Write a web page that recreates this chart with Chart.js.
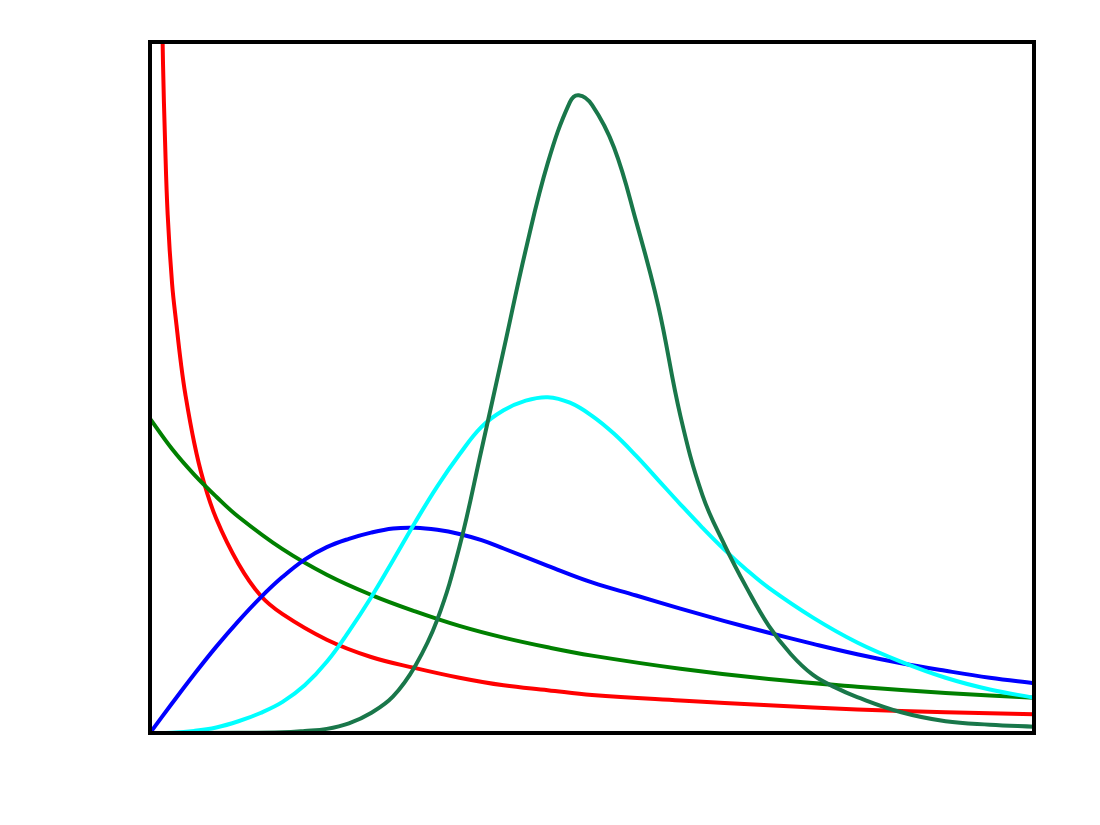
<!DOCTYPE html>
<html>
<head>
<meta charset="utf-8">
<script src="https://cdn.jsdelivr.net/npm/chart.js@4/dist/chart.umd.min.js"></script>
<style>
  html, body { margin:0; padding:0; background:#fff; }
  canvas { display:block; }
</style>
</head>
<body>
<canvas id="cv" width="1100" height="825"></canvas>
<script>
(function(){
'use strict';

// curve values (x from 0 to 10, y from 0 to 1)
const redX   = [0.13, 0.147, 0.17, 0.2, 0.25, 0.3, 0.35, 0.4, 0.5, 0.6, 0.75, 1, 1.25, 1.5, 2, 2.5, 3, 3.5, 4, 4.5, 5, 6, 7, 8, 9, 10];
const redY   = [1.10, 0.97, 0.858, 0.75, 0.65, 0.59, 0.535, 0.49, 0.42, 0.367, 0.31, 0.245, 0.199, 0.172, 0.135, 0.110, 0.094, 0.080, 0.069, 0.062, 0.055, 0.047, 0.040, 0.034, 0.030, 0.027];

const greenX = [0, 0.25, 0.5, 0.75, 1, 1.5, 2, 2.5, 3, 3.5, 4, 4.5, 5, 6, 7, 8, 9, 10];
const greenY = [0.455, 0.411, 0.374, 0.342, 0.313, 0.266, 0.229, 0.200, 0.176, 0.155, 0.138, 0.124, 0.112, 0.093, 0.078, 0.067, 0.058, 0.051];

const blueX  = [0, 0.25, 0.5, 0.75, 1, 1.25, 1.5, 1.75, 2, 2.25, 2.5, 2.75, 3, 3.25, 3.5, 3.75, 4, 4.5, 5, 5.5, 6, 6.5, 7, 7.5, 8, 8.5, 9, 9.5, 10];
const blueY  = [0, 0.043, 0.085, 0.125, 0.162, 0.196, 0.226, 0.251, 0.269, 0.281, 0.290, 0.296, 0.297, 0.294, 0.288, 0.279, 0.267, 0.242, 0.218, 0.199, 0.180, 0.162, 0.145, 0.129, 0.114, 0.101, 0.090, 0.080, 0.072];

const cyanX  = [0, 0.25, 0.5, 0.75, 1, 1.25, 1.5, 1.75, 2, 2.25, 2.5, 2.75, 3, 3.25, 3.5, 3.75, 4, 4.25, 4.5, 4.75, 5, 5.25, 5.5, 5.75, 6, 6.25, 6.5, 6.75, 7, 7.5, 8, 8.5, 9, 9.5, 10];
const cyanY  = [0, 0.0005, 0.003, 0.008, 0.017, 0.029, 0.045, 0.069, 0.103, 0.147, 0.196, 0.250, 0.305, 0.357, 0.403, 0.443, 0.467, 0.481, 0.486, 0.478, 0.459, 0.433, 0.401, 0.366, 0.331, 0.297, 0.265, 0.236, 0.210, 0.167, 0.131, 0.103, 0.080, 0.063, 0.051];

const dkX    = [0, 1, 1.5, 1.75, 2, 2.25, 2.5, 2.75, 3, 3.25, 3.5, 3.75, 4, 4.25, 4.5, 4.75, 4.85, 5, 5.25, 5.5, 5.75, 6, 6.25, 6.5, 6.75, 7, 7.25, 7.5, 7.75, 8, 8.5, 9, 9.5, 10];
const dkY    = [0, 0.0002, 0.001, 0.003, 0.006, 0.014, 0.029, 0.053, 0.097, 0.164, 0.269, 0.410, 0.554, 0.699, 0.825, 0.913, 0.923, 0.909, 0.847, 0.740, 0.618, 0.459, 0.344, 0.272, 0.210, 0.155, 0.114, 0.084, 0.066, 0.052, 0.030, 0.017, 0.012, 0.009];

const pts = (xs, ys) => xs.map((x, i) => ({ x: x, y: ys[i] }));

const line = (data, color, order) => ({
  data: data, borderColor: color, borderWidth: 4, pointRadius: 0,
  fill: false, tension: 0.4, order: order
});

const frame = {
  id: 'frame',
  afterDraw(chart){
    const a = chart.chartArea, c = chart.ctx;
    c.save();
    c.strokeStyle = '#000';
    c.lineWidth = 4;
    c.strokeRect(a.left, a.top, a.right - a.left, a.bottom - a.top);
    c.restore();
  }
};

new Chart(document.getElementById('cv').getContext('2d'), {
  type: 'line',
  data: {
    datasets: [
      line(pts(dkX, dkY), '#19774a', 1),
      line(pts(cyanX, cyanY), '#00ffff', 2),
      line(pts(blueX, blueY), '#0000ff', 3),
      line(pts(greenX, greenY), '#008000', 4),
      line(pts(redX, redY), '#ff0000', 5)
    ]
  },
  options: {
    responsive: false,
    animation: false,
    layout: { padding: { left: 150, top: 42, right: 66, bottom: 92 } },
    plugins: { legend: { display: false }, tooltip: { enabled: false } },
    scales: {
      x: { type: 'linear', min: 0, max: 10, display: false },
      y: { min: 0, max: 1, display: false }
    }
  },
  plugins: [frame]
});

})();
</script>
</body>
</html>
